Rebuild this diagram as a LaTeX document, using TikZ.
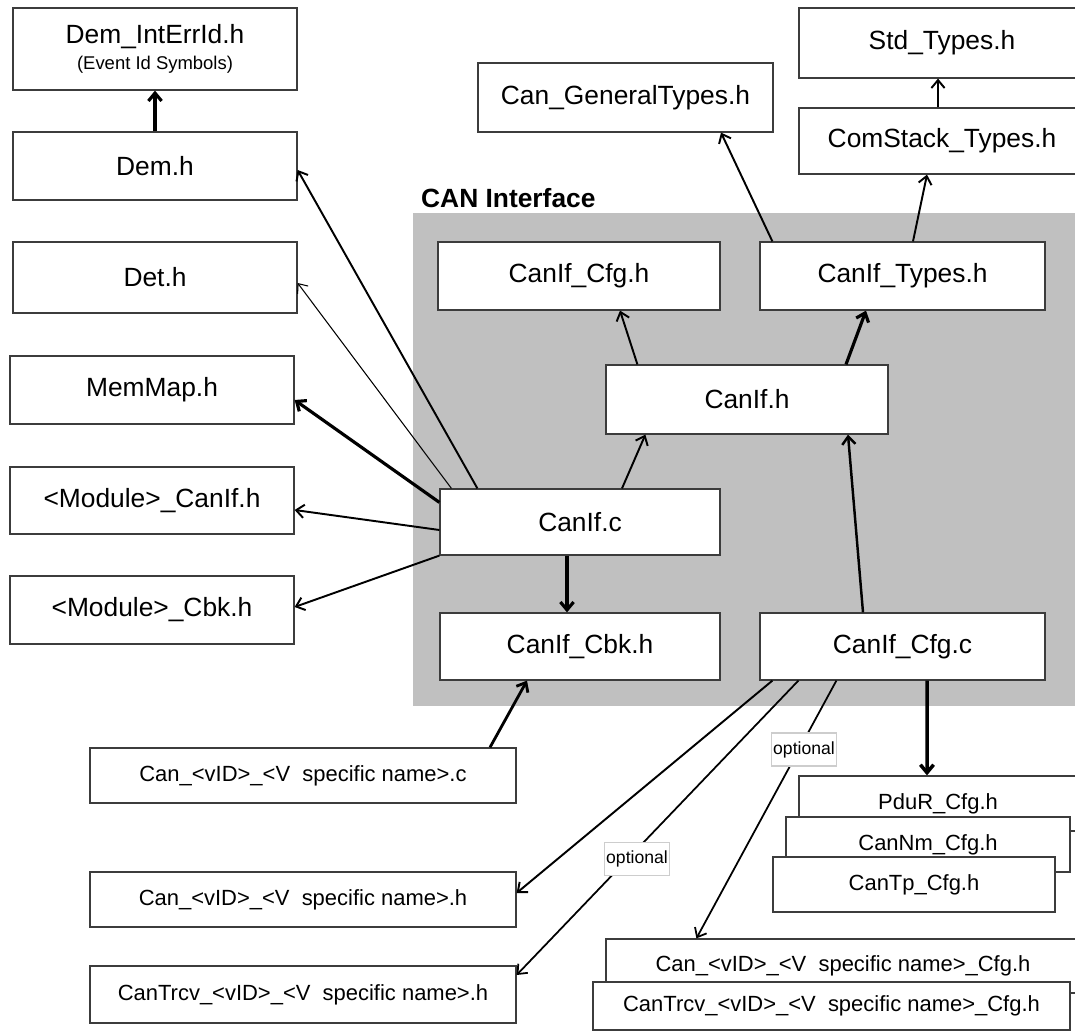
\documentclass[tikz,border=0pt]{standalone}
\usepackage{fontspec}
\setmainfont{Liberation Sans}
\usepackage{tikz}
\usetikzlibrary{arrows.meta}
\definecolor{if_gray}{RGB}{192, 192, 192}
\definecolor{box_line}{RGB}{60, 60, 60}
\definecolor{opt_line}{RGB}{205, 205, 205}
\tikzstyle{hb}=[rectangle,fill=white,draw=box_line,line width=0.7pt,inner sep=0pt,
  minimum width=5.68cm,minimum height=1.36cm,font=\fontsize{15}{18}\selectfont]
\tikzstyle{sb}=[rectangle,fill=white,draw=box_line,line width=0.7pt,inner sep=0pt,
  minimum width=8.52cm,minimum height=1.1cm,font=\fontsize{12.5}{15}\selectfont]
\tikzstyle{ob}=[rectangle,fill=white,draw=opt_line,line width=0.6pt,inner sep=1pt,
  minimum width=1.26cm,minimum height=0.66cm,font=\fontsize{10}{12}\selectfont]
\tikzstyle{la}=[-{Straight Barb[length=4.5pt,width=7.5pt]},line width=0.6pt]
\tikzstyle{ma}=[-{Straight Barb[length=4.5pt,width=7.5pt]},line width=1.1pt]
\tikzstyle{ha}=[-{Straight Barb[length=4.5pt,width=7.5pt]},line width=1.8pt]

\begin{document}
\begin{tikzpicture}
    \useasboundingbox (0,0) rectangle (21.5,-20.62);
    \fill [if_gray] (8.26,-4.26) rectangle (21.6,-14.12);
    \node [anchor=west,font=\fontsize{15}{18}\selectfont\bfseries] (canif) at (8.3,-3.96) {CAN Interface};
    \node [style=hb,minimum height=1.64cm,align=center] (demint) at (3.1,-0.98) {Dem\_IntErrId.h\\[-3pt]{\fontsize{10.5}{12}\selectfont (Event Id Symbols)}};
    \node [style=hb] (demh) at (3.1,-3.32) {Dem.h};
    \node [style=hb,minimum height=1.42cm] (deth) at (3.1,-5.55) {Det.h};
    \node [style=hb] (memmap) at (3.04,-7.8) {MemMap.h};
    \node [style=hb,minimum height=1.34cm] (modcanif) at (3.04,-10.01) {<Module>\_CanIf.h};
    \node [style=hb] (modcbk) at (3.04,-12.2) {<Module>\_Cbk.h};
    \node [style=hb,minimum width=5.9cm,minimum height=1.38cm] (cangen) at (12.51,-1.95) {Can\_GeneralTypes.h};
    \node [style=hb,minimum width=5.72cm,minimum height=1.4cm] (stdtypes) at (18.84,-0.86) {Std\_Types.h};
    \node [style=hb,minimum width=5.72cm,minimum height=1.32cm] (comstack) at (18.84,-2.82) {ComStack\_Types.h};
    \node [style=hb,minimum width=5.64cm] (canifcfgh) at (11.58,-5.52) {CanIf\_Cfg.h};
    \node [style=hb,minimum width=5.7cm] (canift) at (18.05,-5.52) {CanIf\_Types.h};
    \node [style=hb,minimum width=5.64cm,minimum height=1.38cm] (canifh) at (14.94,-7.99) {CanIf.h};
    \node [style=hb,minimum width=5.6cm,minimum height=1.32cm] (canifc) at (11.6,-10.44) {CanIf.c};
    \node [style=hb,minimum width=5.6cm,minimum height=1.34cm] (canifcbk) at (11.6,-12.93) {CanIf\_Cbk.h};
    \node [style=hb,minimum width=5.7cm,minimum height=1.34cm] (canifcfgc) at (18.05,-12.93) {CanIf\_Cfg.c};
    \node [style=sb] (canc) at (6.06,-15.51) {Can\_<vID>\_<V\ \ specific name>.c};
    \node [style=sb] (canh) at (6.06,-17.99) {Can\_<vID>\_<V\ \ specific name>.h};
    \node [style=sb,minimum height=1.14cm] (cantrcvh) at (6.06,-19.89) {CanTrcv\_<vID>\_<V\ \ specific name>.h};
    \node [style=sb,minimum width=5.56cm] (pdur) at (18.76,-16.07) {PduR\_Cfg.h};
    \node [style=sb,minimum width=5.68cm] (cannm) at (18.56,-16.89) {CanNm\_Cfg.h};
    \node [style=sb,minimum width=5.64cm] (cantp) at (18.28,-17.69) {CanTp\_Cfg.h};
    \node [style=sb,minimum width=9.48cm,minimum height=1.08cm] (cancfg) at (16.86,-19.32) {Can\_<vID>\_<V\ \ specific name>\_Cfg.h};
    \node [style=sb,minimum width=9.54cm,minimum height=0.96cm] (cantrcvcfg) at (16.63,-20.12) {CanTrcv\_<vID>\_<V\ \ specific name>\_Cfg.h};
    \draw [style=ha] (demh) to (demint);
    \draw [style=ma] ([xshift=0.76cm]canifc.north west) to ([yshift=-0.08cm]demh.east);
    \draw [style=la] ([xshift=0.24cm]canifc.north west) to ([yshift=-0.11cm]deth.east);
    \draw [style=ha] ([yshift=-0.28cm]canifc.north west) to ([yshift=-0.2cm]memmap.east);
    \draw [style=ma] ([yshift=-0.16cm]canifc.west) to ([yshift=-0.19cm]modcanif.east);
    \draw [style=ma] (canifc.south west) to ([yshift=0.06cm]modcbk.east);
    \draw [style=ma] ([xshift=0.84cm]canifc.north) to ([xshift=0.8cm]canifh.south west);
    \draw [style=ha] ([xshift=-0.26cm]canifc.south) to ([xshift=-0.26cm]canifcbk.north);
    \draw [style=ma] ([xshift=0.64cm]canifh.north west) to ([xshift=0.82cm]canifcfgh.south);
    \draw [style=ha] ([xshift=1.98cm]canifh.north) to ([xshift=-0.73cm]canift.south);
    \draw [style=ma] ([xshift=0.26cm]canift.north west) to ([xshift=1.91cm]cangen.south);
    \draw [style=ma] ([xshift=0.21cm]canift.north) to ([xshift=-0.3cm]comstack.south);
    \draw [style=ma] ([xshift=-0.08cm]comstack.north) to ([xshift=-0.08cm]stdtypes.south);
    \draw [style=ma,line width=1.4pt] ([xshift=-0.79cm]canifcfgc.north) to ([xshift=2.02cm]canifh.south);
    \draw [style=ha,line width=1.6pt] ([xshift=3.74cm]canc.north) to ([xshift=-1.06cm]canifcbk.south);
    \draw [style=ha,line width=2pt] ([xshift=0.49cm]canifcfgc.south) to ([xshift=-0.22cm]pdur.north);
    \draw [style=ma] ([xshift=0.26cm]canifcfgc.south west) to ([yshift=0.13cm]canh.east);
    \draw [style=ma,line width=1pt] ([xshift=0.78cm]canifcfgc.south west) to ([yshift=0.39cm]cantrcvh.east);
    \draw [style=ma,line width=1pt] ([xshift=1.54cm]canifcfgc.south west) to ([xshift=1.82cm]cancfg.north west);
    \node [style=ob] (opt1) at (16.08,-14.99) {optional};
    \node [style=ob] (opt2) at (12.74,-17.18) {optional};
  \end{tikzpicture}
\end{document}
